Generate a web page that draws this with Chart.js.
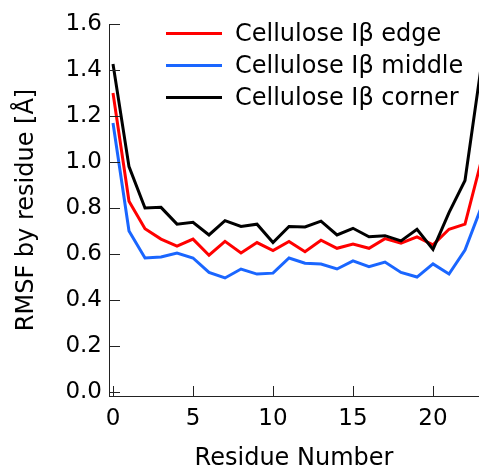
<!DOCTYPE html>
<html>
<head>
<meta charset="utf-8">
<script src="https://cdn.jsdelivr.net/npm/chart.js@4/dist/chart.umd.min.js"></script>
<style>
html,body{margin:0;padding:0;background:#fff;overflow:hidden;}
canvas{display:block;}
</style>
</head>
<body>
<canvas id="c" width="479" height="472"></canvas>
<script>
const residues = [0,1,2,3,4,5,6,7,8,9,10,11,12,13,14,15,16,17,18,19,20,21,22,23];
const edgeRMSF   = [1.30,0.83,0.71,0.665,0.635,0.665,0.595,0.655,0.605,0.65,0.615,0.655,0.61,0.66,0.625,0.643,0.625,0.667,0.647,0.675,0.64,0.708,0.73,1.00];
const middleRMSF = [1.17,0.70,0.583,0.587,0.604,0.583,0.52,0.496,0.535,0.513,0.517,0.583,0.56,0.557,0.535,0.57,0.545,0.565,0.52,0.50,0.557,0.513,0.617,0.80];
const cornerRMSF = [1.426,0.98,0.80,0.803,0.73,0.738,0.683,0.745,0.72,0.73,0.65,0.72,0.718,0.743,0.683,0.712,0.675,0.68,0.657,0.708,0.62,0.78,0.92,1.41];
const seriesLabels = ['Cellulose I\u03B2 edge','Cellulose I\u03B2 middle','Cellulose I\u03B2 corner'];
const xTicks = [0,5,10,15,20];
const yTicks = [0,0.2,0.4,0.6,0.8,1.0,1.2,1.4,1.6];
const xTitle = 'Residue Number';
const yTitle = 'RMSF by residue [\u00C5]';

const FONT = 'DejaVu Sans';
const AXIS = '#222';

function pts(vals){ return residues.map((r,i)=>({x:r,y:vals[i]})); }

const innerTicks = {
  id:'innerTicks',
  afterDatasetsDraw(chart){
    const {ctx, scales:{x,y}, chartArea:a} = chart;
    ctx.save();
    ctx.strokeStyle = AXIS; ctx.lineWidth = 1;
    ctx.beginPath();
    yTicks.forEach(v=>{ const p=Math.round(y.getPixelForValue(v))+0.5; ctx.moveTo(a.left, p); ctx.lineTo(a.left+11, p); });
    xTicks.forEach(v=>{ const p=Math.round(x.getPixelForValue(v))+0.5; ctx.moveTo(p, a.bottom); ctx.lineTo(p, a.bottom-10); });
    ctx.stroke();
    ctx.restore();
  }
};

const legendPlugin = {
  id:'customLegend',
  afterDatasetsDraw(chart){
    const ctx = chart.ctx;
    ctx.save();
    ctx.font = '24px "' + FONT + '"';
    ctx.textBaseline = 'middle';
    ctx.textAlign = 'left';
    const rows = [33.5, 65.5, 97.5];
    chart.data.datasets.forEach((ds,i)=>{
      const yy = rows[ds.legendRow];
      ctx.strokeStyle = ds.borderColor; ctx.lineWidth = 3;
      ctx.beginPath(); ctx.moveTo(166, yy); ctx.lineTo(222, yy); ctx.stroke();
      ctx.fillStyle = '#000';
      ctx.fillText(ds.label, 235, yy+1);
    });
    ctx.restore();
  }
};

new Chart(document.getElementById('c'), {
  type:'line',
  data:{
    datasets:[
      {label:seriesLabels[0], data:pts(edgeRMSF), borderColor:'#ff0000', order:1, legendRow:0},
      {label:seriesLabels[1], data:pts(middleRMSF), borderColor:'#1a66ff', order:2, legendRow:1},
      {label:seriesLabels[2], data:pts(cornerRMSF), borderColor:'#000000', order:0, legendRow:2}
    ]
  },
  options:{
    responsive:false,
    animation:false,
    devicePixelRatio:1,
    layout:{padding:{top:24,right:0,left:0,bottom:0}},
    elements:{line:{borderWidth:3,tension:0,borderJoinStyle:'miter'},point:{radius:0}},
    plugins:{legend:{display:false},tooltip:{enabled:false}},
    scales:{
      x:{
        type:'linear', min:-0.25, max:22.875,
        afterBuildTicks(s){ s.ticks = xTicks.map(v=>({value:v})); },
        afterFit(s){ s.height = 76; },
        grid:{display:false, drawTicks:false},
        border:{display:true, color:AXIS, width:1},
        ticks:{color:'#000', padding:9, font:{family:FONT,size:23}, maxRotation:0, callback:v=>String(v)},
        title:{display:true, text:xTitle, color:'#000', font:{family:FONT,size:24,lineHeight:1}, padding:{top:0,bottom:1}}
      },
      y:{
        type:'linear', min:-0.017, max:1.6,
        afterBuildTicks(s){ s.ticks = yTicks.map(v=>({value:v})); },
        afterFit(s){ s.width = 109; },
        grid:{display:false, drawTicks:false},
        border:{display:true, color:AXIS, width:1},
        ticks:{color:'#000', padding:7, font:{family:FONT,size:23}, callback:v=>Number(v).toFixed(1)},
        title:{display:true, text:yTitle, color:'#000', font:{family:FONT,size:24,lineHeight:1}, padding:{top:15,bottom:0}}
      }
    }
  },
  plugins:[innerTicks, legendPlugin]
});
</script>
</body>
</html>
